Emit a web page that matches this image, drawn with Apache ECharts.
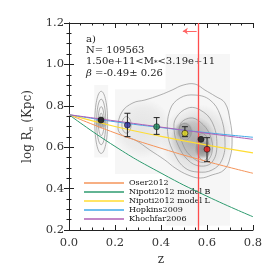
<!DOCTYPE html>
<html><head><meta charset="utf-8">
<script src="https://cdn.jsdelivr.net/npm/echarts@6/dist/echarts.min.js"></script>
<style>html,body{margin:0;padding:0;background:#fff}#c{width:274px;height:274px}</style>
</head><body><div id="c"></div>
<script>
// ---- data ----
const xTicks = [0.0, 0.2, 0.4, 0.6, 0.8];
const yTicks = [0.2, 0.4, 0.6, 0.8, 1.0, 1.2];
const modelZ = [0, 0.2, 0.4, 0.6, 0.8];
const oser2012      = [0.757, 0.669, 0.595, 0.531, 0.474];
const nipotiB       = [0.757, 0.604, 0.475, 0.363, 0.264];
const nipotiL       = [0.757, 0.700, 0.652, 0.610, 0.573];
const hopkins2009   = [0.757, 0.723, 0.695, 0.670, 0.648];
const khochfar2006  = [0.757, 0.727, 0.697, 0.667, 0.638];
const binZ   = [0.139, 0.254, 0.381, 0.504, 0.574, 0.600];
const binR   = [0.731, 0.707, 0.699, 0.667, 0.638, 0.590];
const binLo  = [null, 0.651, 0.662, 0.651, null, 0.530];
const binHi  = [null, 0.764, 0.743, 0.699, null, 0.646];
const binColors = ['#111111', '#2a2a9a', '#1a8a5a', '#e8e020', '#111111', '#ee1c1c'];
const zCut = 0.555;
const arrowY = 1.161;
const arrowZEnd = 0.495;
// light density tiles: [zMin, zMax, logRMin, logRMax, opacity]
const tiles = [
  [0.20, 0.42, 0.47, 0.88, 0.05],
  [0.42, 0.70, 0.22, 1.05, 0.05],
  [0.11, 0.17, 0.55, 0.90, 0.05]
];
// density blobs: [z, logR, halfWidthZ, halfHeightLogR, opacity]
const blobs = [
  [0.56, 0.63, 0.16, 0.44, 0.16],
  [0.32, 0.69, 0.13, 0.20, 0.10],
  [0.14, 0.72, 0.030, 0.17, 0.45],
  [0.54, 0.64, 0.10, 0.24, 0.32],
  [0.50, 0.68, 0.040, 0.10, 0.32],
  [0.585, 0.59, 0.040, 0.12, 0.42]
];
// contour ellipses: [z, logR, halfWidthZ, halfHeightLogR]
const contourEllipses = [
  [0.140, 0.720, 0.028, 0.150],
  [0.140, 0.722, 0.020, 0.110],
  [0.140, 0.726, 0.013, 0.070],
  [0.140, 0.730, 0.007, 0.035],
  [0.250, 0.708, 0.020, 0.040]
];
// contour outlines as [z, logR] vertices
const contourPaths = [
  [[0.213,0.693],[0.230,0.770],[0.278,0.814],[0.330,0.828],[0.396,0.852],[0.448,0.876],[0.496,0.900],[0.548,0.905],[0.591,0.876],[0.635,0.847],[0.678,0.814],[0.700,0.731],[0.709,0.635],[0.700,0.548],[0.674,0.490],[0.622,0.466],[0.570,0.451],[0.517,0.466],[0.461,0.500],[0.417,0.538],[0.352,0.586],[0.287,0.635],[0.230,0.659]],
  [[0.439,0.780],[0.483,0.838],[0.548,0.852],[0.613,0.828],[0.657,0.756],[0.678,0.635],[0.665,0.538],[0.622,0.490],[0.561,0.480],[0.504,0.500],[0.461,0.562],[0.430,0.659]],
  [[0.465,0.741],[0.517,0.789],[0.570,0.780],[0.622,0.722],[0.643,0.611],[0.622,0.528],[0.570,0.509],[0.517,0.538],[0.474,0.611],[0.457,0.683]],
  [[0.483,0.707],[0.526,0.741],[0.570,0.722],[0.613,0.659],[0.622,0.577],[0.591,0.528],[0.539,0.548],[0.496,0.611]],
  [[0.478,0.690],[0.500,0.715],[0.525,0.700],[0.530,0.660],[0.510,0.635],[0.485,0.650]],
  [[0.560,0.650],[0.585,0.665],[0.605,0.630],[0.605,0.560],[0.585,0.535],[0.562,0.565]]
];

const serif = 'DejaVu Serif';
const chart = echarts.init(document.getElementById('c'), null, {renderer: 'canvas'});

function toPts(arr){ return modelZ.map((z, i) => [z, arr[i]]); }

function tileItem(params, api) {
  const p1 = api.coord([api.value(0), api.value(3)]);
  const p2 = api.coord([api.value(1), api.value(2)]);
  return {type: 'rect', silent: true,
    shape: {x: p1[0], y: p1[1], width: p2[0] - p1[0], height: p2[1] - p1[1]},
    style: {fill: 'rgba(70,70,70,' + api.value(4) + ')'}};
}
function blobItem(params, api) {
  const c = api.coord([api.value(0), api.value(1)]);
  const s = api.size([api.value(2), api.value(3)]);
  const a = api.value(4);
  return {
    type: 'ellipse', silent: true,
    shape: {cx: c[0], cy: c[1], rx: s[0], ry: s[1]},
    style: {fill: {type: 'radial', x: 0.5, y: 0.5, r: 0.5, colorStops: [
      {offset: 0, color: 'rgba(70,70,70,' + a + ')'},
      {offset: 0.7, color: 'rgba(70,70,70,' + (a * 0.6) + ')'},
      {offset: 1, color: 'rgba(70,70,70,0)'}]}}
  };
}
function ellItem(params, api) {
  const c = api.coord([api.value(0), api.value(1)]);
  const s = api.size([api.value(2), api.value(3)]);
  return {type: 'ellipse', silent: true, shape: {cx: c[0], cy: c[1], rx: s[0], ry: s[1]},
    style: {fill: 'none', stroke: '#8f8f8f', lineWidth: 0.7}};
}
function pathItem(params, api) {
  const path = contourPaths[api.value(2)];
  return {type: 'polygon', silent: true, shape: {points: path.map(p => api.coord(p)), smooth: 0.4},
    style: {fill: 'none', stroke: '#8f8f8f', lineWidth: 0.7}};
}
function errItem(params, api) {
  const i = params.dataIndex;
  if (binLo[i] == null) return null;
  const lo = api.coord([binZ[i], binLo[i]]);
  const hi = api.coord([binZ[i], binHi[i]]);
  const st = {stroke: '#222', lineWidth: 1};
  return {type: 'group', silent: true, children: [
    {type: 'line', shape: {x1: lo[0], y1: lo[1], x2: hi[0], y2: hi[1]}, style: st},
    {type: 'line', shape: {x1: lo[0]-3, y1: lo[1], x2: lo[0]+3, y2: lo[1]}, style: st},
    {type: 'line', shape: {x1: hi[0]-3, y1: hi[1], x2: hi[0]+3, y2: hi[1]}, style: st}
  ]};
}

const axisCommon = {
  type: 'value',
  axisLine: {show: true, lineStyle: {color: '#222', width: 1}},
  axisTick: {show: true, inside: true, length: 5, lineStyle: {color: '#222'}},
  minorTick: {show: true, splitNumber: 4, length: 2.5, lineStyle: {color: '#222'}},
  splitLine: {show: false},
  interval: 0.2
};
const labelStyle = {fontFamily: serif, fontSize: 11.5, color: '#333', formatter: v => v.toFixed(1)};

const lineSeries = (name, arr, color, w) => ({
  type: 'line', name: name, data: toPts(arr), smooth: true, symbol: 'none', z: 5,
  lineStyle: {color: color, width: w}, itemStyle: {color: color}
});

chart.setOption({
  animation: false,
  grid: {left: 69, right: 21, top: 23, bottom: 44},
  xAxis: [
    Object.assign({}, axisCommon, {position: 'bottom', min: 0, max: 0.8,
      axisLabel: Object.assign({}, labelStyle, {margin: 7}),
      name: 'z', nameLocation: 'middle', nameGap: 23,
      nameTextStyle: {fontFamily: serif, fontSize: 12, color: '#333'}}),
    Object.assign({}, axisCommon, {position: 'top', min: 0, max: 0.8, axisLabel: {show: false}})
  ],
  yAxis: [
    Object.assign({}, axisCommon, {position: 'left', min: 0.2, max: 1.2,
      axisLabel: Object.assign({}, labelStyle, {margin: 5}),
      name: '{a|log R}{s|e}{a| (Kpc)}', nameLocation: 'middle', nameGap: 33, nameRotate: 90,
      nameTextStyle: {rich: {
        a: {fontFamily: serif, fontSize: 12, color: '#333'},
        s: {fontFamily: serif, fontSize: 8, color: '#333', verticalAlign: 'bottom', padding: [6, 0, 0, 0]}}}}),
    Object.assign({}, axisCommon, {position: 'right', min: 0.2, max: 1.2, axisLabel: {show: false}})
  ],
  legend: {
    orient: 'vertical', left: 79, top: 174, itemWidth: 40, itemHeight: 1.5, itemGap: 1,
    icon: 'rect',
    textStyle: {fontFamily: serif, fontSize: 8, color: '#111', lineHeight: 7.3, padding: [0, 0, 0, 0]},
    data: ['Oser2012', 'Nipoti2012 model B', 'Nipoti2012 model L', 'Hopkins2009', 'Khochfar2006']
  },
  graphic: [
    {type: 'text', left: 86, top: 34, style: {text: 'a)', font: '10px "DejaVu Serif"', fill: '#222'}},
    {type: 'text', left: 86, top: 45, style: {text: 'N= 109563', font: '10px "DejaVu Serif"', fill: '#222'}},
    {type: 'text', left: 86, top: 56, style: {
      text: '{a|1.50e+11<M}{s|*}{a|<3.19e+11}',
      rich: {a: {fontFamily: serif, fontSize: 10, fill: '#222'}, s: {fontFamily: serif, fontSize: 7, fill: '#222', padding: [5, 0, 0, 0]}}}},
    {type: 'text', left: 86, top: 67, style: {
      text: '{b|β} {a|=-0.49± 0.26}',
      rich: {a: {fontFamily: serif, fontSize: 10, fill: '#222'}, b: {fontFamily: serif, fontSize: 10, fontStyle: 'italic', fill: '#222'}}}}
  ],
  series: [
    {type: 'custom', renderItem: tileItem, data: tiles, z: 1, clip: true, encode: {x: [0, 1], y: [2, 3]}},
    {type: 'custom', renderItem: blobItem, data: blobs, z: 1, clip: true, encode: {x: 0, y: 1}},
    {type: 'custom', renderItem: ellItem, data: contourEllipses, z: 2, clip: true, encode: {x: 0, y: 1}},
    {type: 'custom', renderItem: pathItem, data: contourPaths.map((p, i) => [p[0][0], p[0][1], i]), z: 2, clip: true, encode: {x: 0, y: 1}},
    {type: 'line', name: 'cut', data: [], z: 6, silent: true,
      markLine: {silent: true, symbol: 'none', label: {show: false},
        lineStyle: {color: '#ff4d4d', width: 1.3, type: 'solid'},
        data: [
          {xAxis: zCut},
          [{coord: [zCut, arrowY], symbol: 'none'}, {coord: [arrowZEnd, arrowY], symbol: 'arrow', symbolSize: 5,
            lineStyle: {color: '#ff6666', width: 1}}]
        ]}},
    lineSeries('Oser2012', oser2012, '#f4945a', 1),
    lineSeries('Nipoti2012 model B', nipotiB, '#2e9b6f', 1),
    lineSeries('Nipoti2012 model L', nipotiL, '#ffdd33', 1.2),
    lineSeries('Hopkins2009', hopkins2009, '#3fa9e8', 1),
    lineSeries('Khochfar2006', khochfar2006, '#b05fb5', 1),
    {type: 'custom', renderItem: errItem, data: binZ.map((z, i) => [z, binR[i]]), z: 7, encode: {x: 0, y: 1}},
    {type: 'scatter', data: binZ.map((z, i) => ({value: [z, binR[i]], itemStyle: {color: binColors[i]}})),
      symbolSize: 6, z: 8, itemStyle: {borderColor: '#111', borderWidth: 0.7}}
  ]
});
</script></body></html>
